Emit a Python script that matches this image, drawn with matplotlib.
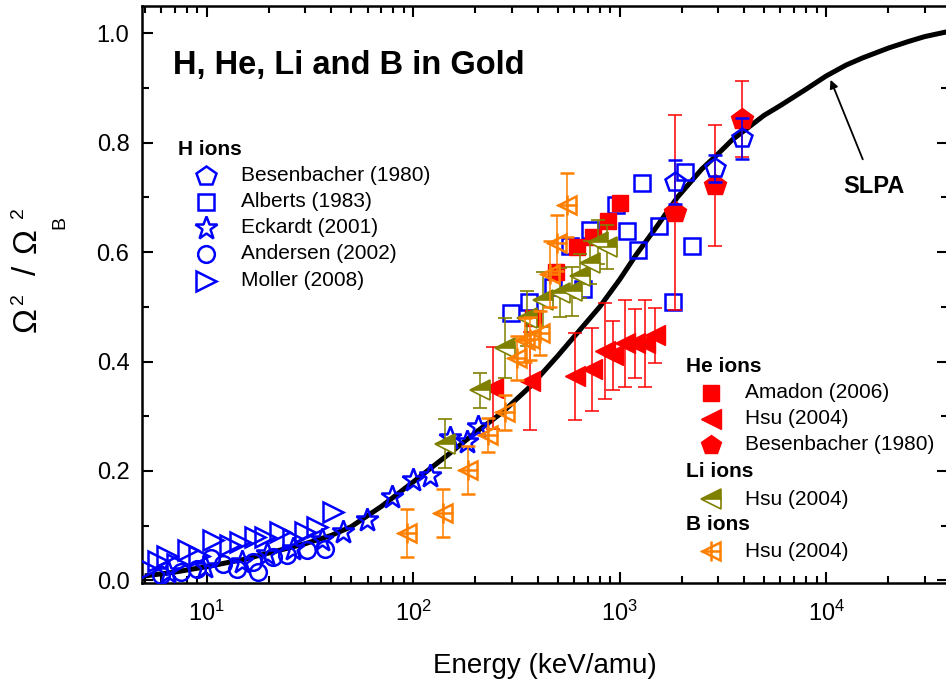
import matplotlib
matplotlib.use("Agg")
import matplotlib.pyplot as plt
from matplotlib.ticker import MultipleLocator, LogLocator, NullFormatter

plt.rcParams['font.family'] = ['Liberation Sans', 'DejaVu Sans']
plt.rcParams['mathtext.fontset'] = 'custom'
plt.rcParams['mathtext.rm'] = 'Liberation Sans'
plt.rcParams['mathtext.it'] = 'Liberation Sans:italic'
plt.rcParams['mathtext.bf'] = 'Liberation Sans:bold'

BLUE = '#0000FF'
RED = '#FF0000'
OLIVE = '#808000'
ORANGE = '#FF8000'

# SLPA theory curve
slpa_e = [5, 7, 10, 15, 20, 30, 40, 50, 70, 100, 150, 200, 270, 370, 500, 600, 800,
          1000, 1200, 1500, 1900, 2500, 3000, 3500, 4200, 5000, 6000, 8000, 10000,
          12500, 15000, 20000, 25000, 30000, 38700]
slpa_r = [0.008, 0.015, 0.025, 0.038, 0.05, 0.067, 0.082, 0.098, 0.135, 0.18, 0.232,
          0.27, 0.307, 0.355, 0.41, 0.445, 0.50, 0.55, 0.595, 0.645, 0.70, 0.752,
          0.78, 0.805, 0.828, 0.85, 0.868, 0.898, 0.922, 0.942, 0.955, 0.973, 0.985,
          0.994, 1.003]

# H ions
besen_h_e = [1845, 2885, 3890]
besen_h_r = [0.728, 0.753, 0.808]
besen_h_err = [0.04, 0.024, 0.037]

alberts_e = [297, 362, 474, 662, 573, 716, 955, 1081, 1222, 1276, 1545, 1806, 2066, 2234]
alberts_r = [0.488, 0.508, 0.536, 0.532, 0.612, 0.64, 0.687, 0.638, 0.603, 0.726,
             0.647, 0.508, 0.746, 0.611]

eckardt_e = [6.5, 9.8, 14.8, 19.5, 26, 36, 45.5, 59.5, 78.7, 100, 120, 150, 182, 205]
eckardt_r = [0.015, 0.024, 0.033, 0.048, 0.058, 0.073, 0.088, 0.11, 0.152, 0.183,
             0.19, 0.26, 0.252, 0.28]

andersen_e = [6, 7.5, 9, 10.5, 12, 14, 16.7, 17.7, 20.9, 24.4, 30.5, 37.3]
andersen_r = [0.01, 0.015, 0.02, 0.04, 0.03, 0.02, 0.033, 0.015, 0.042, 0.046, 0.055, 0.058]

moller_e = [5.2, 5.8, 6.4, 7.2, 8.1, 9.2, 10.7, 12.9, 14.5, 17.1, 19.1, 22.6, 26, 29.8, 34.1, 40.7]
moller_r = [0.02, 0.035, 0.045, 0.03, 0.055, 0.045, 0.073, 0.064, 0.07, 0.079, 0.079,
            0.088, 0.075, 0.088, 0.097, 0.124]

# He ions
amadon_e = [378, 493, 624, 746, 875, 1000]
amadon_r = [0.479, 0.563, 0.609, 0.627, 0.656, 0.689]

hsu_he_e = [243, 366, 605, 731, 846, 925, 1057, 1182, 1322, 1478]
hsu_he_r = [0.351, 0.364, 0.373, 0.386, 0.419, 0.411, 0.433, 0.433, 0.433, 0.448]
hsu_he_err = [0.075, 0.09, 0.08, 0.076, 0.088, 0.063, 0.08, 0.063, 0.08, 0.05]

besen_he_e = [1845, 2885, 3890]
besen_he_r = [0.673, 0.722, 0.843]
besen_he_err = [0.178, 0.11, 0.07]

# Li ions
hsu_li_e = [142, 210, 277, 355, 424, 512, 586, 640, 716, 782, 865]
hsu_li_r = [0.25, 0.347, 0.424, 0.479, 0.513, 0.526, 0.528, 0.557, 0.581, 0.618, 0.609]
hsu_li_err = [0.044, 0.032, 0.055, 0.05, 0.05, 0.045, 0.045, 0.04, 0.04, 0.04, 0.04]

# B ions
hsu_b_e = [93, 139, 184, 230, 277, 317, 347, 366, 410, 458, 495, 553]
hsu_b_r = [0.086, 0.123, 0.201, 0.265, 0.307, 0.406, 0.439, 0.442, 0.452, 0.56, 0.616, 0.686]
hsu_b_err = [0.044, 0.044, 0.044, 0.031, 0.032, 0.04, 0.04, 0.04, 0.04, 0.06, 0.051, 0.058]

W, H = 946, 686
fig = plt.figure(figsize=(W / 100, H / 100), dpi=100)
# right spine sits just past the image edge, as in the original
ax = fig.add_axes([0.1501, 0.1501, 0.8515, 0.8412])

ax.plot(slpa_e, slpa_r, color='black', lw=3.6, zorder=1, solid_capstyle='butt')

# H ions (open blue symbols)
open_kw = dict(ls='none', mfc='none', mec=BLUE, mew=1.8, zorder=3)
ax.plot(moller_e, moller_r, marker='>', ms=14, **open_kw)
ax.plot(andersen_e, andersen_r, marker='o', ms=12, **open_kw)
ax.plot(eckardt_e, eckardt_r, marker='*', ms=17, **open_kw)
ax.plot(alberts_e, alberts_r, marker='s', ms=11, **open_kw)

# He ions
ax.errorbar(hsu_he_e, hsu_he_r, yerr=hsu_he_err, fmt='<', ms=14, color=RED,
            mec=RED, mfc=RED, elinewidth=1.1, capsize=5, capthick=1.1, zorder=4)
ax.plot(amadon_e, amadon_r, marker='s', ms=11, ls='none', color=RED, zorder=4)
ax.errorbar(besen_he_e, besen_he_r, yerr=besen_he_err, fmt='p', ms=16, color=RED,
            elinewidth=1.1, capsize=5, capthick=1.1, zorder=4)
ax.errorbar(besen_h_e, besen_h_r, yerr=besen_h_err, fmt='p', ms=15, mfc='none',
            mec=BLUE, mew=1.8, ecolor=BLUE, elinewidth=1.1, capsize=5,
            capthick=1.1, zorder=5)

# Li ions
ax.errorbar(hsu_li_e, hsu_li_r, yerr=hsu_li_err, fmt='<', ms=14, color=OLIVE,
            mec=OLIVE, mfc=OLIVE, mfcalt='white', fillstyle='top', mew=1.2,
            elinewidth=1.1, capsize=5, capthick=1.1, zorder=6)

# B ions
ax.errorbar(hsu_b_e, hsu_b_r, yerr=hsu_b_err, fmt='<', ms=13, color=ORANGE,
            mfc='none', mec=ORANGE, mew=1.8, elinewidth=1.1, capsize=5,
            capthick=1.1, zorder=7)
ax.plot(hsu_b_e, hsu_b_r, marker='+', ms=14, mew=1.8, ls='none', color=ORANGE, zorder=7)

ax.set_xscale('log')
ax.set_xlim(4.85, 38700)
ax.set_ylim(-0.005, 1.05)
ax.yaxis.set_major_locator(MultipleLocator(0.2))
ax.yaxis.set_minor_locator(MultipleLocator(0.1))
ax.yaxis.set_major_formatter(plt.FuncFormatter(lambda v, p: f'{v:.1f}'))
ax.xaxis.set_major_locator(LogLocator(base=10))
ax.xaxis.set_minor_locator(LogLocator(base=10, subs=range(2, 10)))
ax.xaxis.set_minor_formatter(NullFormatter())

ax.tick_params(which='both', direction='in', top=True, right=True, width=1.5,
               labelsize=17)
ax.tick_params(which='major', length=8, pad=9)
ax.tick_params(axis='x', which='major', pad=13)
ax.tick_params(which='minor', length=5)
for s in ax.spines.values():
    s.set_linewidth(1.8)

ax.set_xlabel('Energy (keV/amu)', fontsize=20, labelpad=19)

# y label built Origin-style from pieces (pixel positions from the top-left)
ylabel_parts = [('Ω', 27, 320, 24), ('2', 18, 299, 14), ('/', 28, 270, 24),
                ('Ω', 27, 241, 24), ('B', 60, 222, 14), ('2', 18, 213, 14)]
for s, px, py, fs in ylabel_parts:
    fig.text(px / W, 1 - py / H, s, rotation=90, fontsize=fs, ha='center', va='center')

ax.text(0.039, 0.896, 'H, He, Li and B in Gold', transform=ax.transAxes,
        fontsize=23.5, fontweight='bold', va='center', ha='left')

ax.annotate('SLPA', xy=(10500, 0.915), xytext=(17000, 0.72), fontsize=17,
            fontweight='bold', ha='center', va='center',
            arrowprops=dict(arrowstyle='-|>', color='black', lw=1.3,
                            mutation_scale=12, shrinkA=10, shrinkB=0))

# legends
def header(x, y, s):
    ax.text(x, y, s, transform=ax.transAxes, fontsize=15, fontweight='bold',
            va='center', ha='left')

def entry(xm, xt, y, s, **mk):
    ax.plot([xm], [y], transform=ax.transAxes, ls='none', clip_on=False, **mk)
    ax.text(xt, y, s, transform=ax.transAxes, fontsize=15, va='center', ha='left')

hopen = dict(mfc='none', mec=BLUE, mew=1.8)
header(0.045, 0.752, 'H ions')
entry(0.080, 0.123, 0.706, 'Besenbacher (1980)', marker='p', ms=15, **hopen)
entry(0.080, 0.123, 0.661, 'Alberts (1983)', marker='s', ms=11, **hopen)
entry(0.080, 0.123, 0.616, 'Eckardt (2001)', marker='*', ms=17, **hopen)
entry(0.080, 0.123, 0.571, 'Andersen (2002)', marker='o', ms=12, **hopen)
entry(0.080, 0.123, 0.524, 'Moller (2008)', marker='>', ms=14, **hopen)

header(0.675, 0.375, 'He ions')
entry(0.707, 0.749, 0.330, 'Amadon (2006)', marker='s', ms=11, color=RED)
entry(0.707, 0.749, 0.285, 'Hsu (2004)', marker='<', ms=14, color=RED)
entry(0.707, 0.749, 0.240, 'Besenbacher (1980)', marker='p', ms=15, color=RED)
header(0.675, 0.194, 'Li ions')
entry(0.707, 0.749, 0.145, 'Hsu (2004)', marker='<', ms=14, mec=OLIVE, mfc=OLIVE,
      mfcalt='white', fillstyle='top', mew=1.2)
header(0.675, 0.102, 'B ions')
entry(0.707, 0.749, 0.055, 'Hsu (2004)', marker='<', ms=13, mfc='none', mec=ORANGE, mew=1.8)
entry(0.707, 0.749, 0.055, '', marker='+', ms=14, mew=1.8, color=ORANGE)

fig.savefig('out.png', dpi=100)
